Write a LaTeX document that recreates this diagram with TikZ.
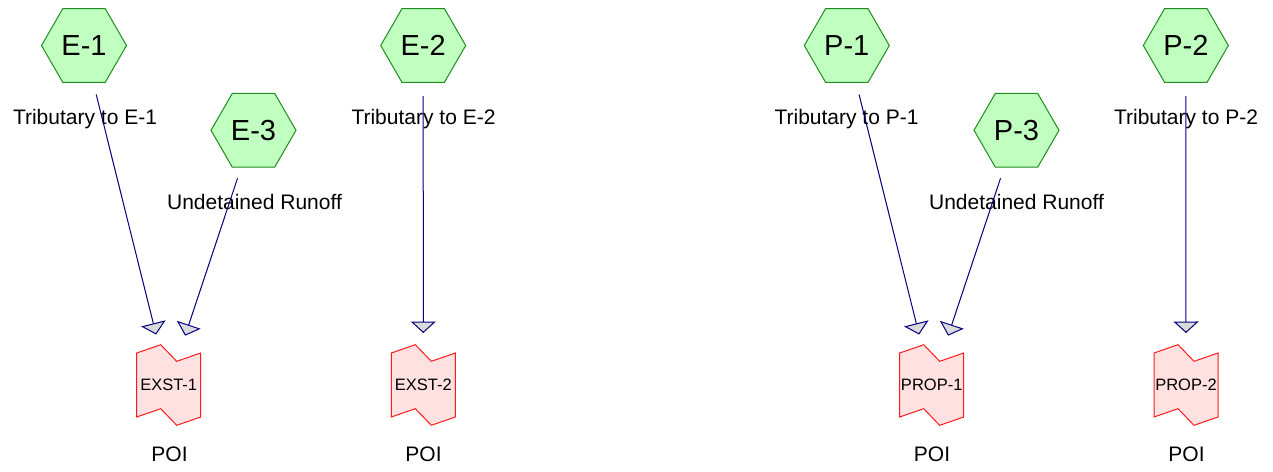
\documentclass[tikz,border=0pt]{standalone}
\usepackage{fontspec}
\setmainfont{Liberation Sans}
\usetikzlibrary{shapes.geometric,arrows.meta}
\definecolor{hexfill}{HTML}{C0FFC0}
\definecolor{hexline}{HTML}{1E8C1E}
\definecolor{boxfill}{HTML}{FFE1E1}
\definecolor{boxline}{HTML}{FF1A1A}
\definecolor{flowline}{HTML}{000080}
\definecolor{tipfill}{HTML}{DADADA}
\tikzset{
  hex/.style={regular polygon, regular polygon sides=6, minimum size=85pt, inner sep=0pt,
    fill=hexfill, draw=hexline, line width=1pt, font=\fontsize{29}{32}\selectfont},
  lbl/.style={anchor=base, inner sep=0pt, font=\fontsize{21}{24}\selectfont},
  poiframe/.style={fill=boxfill, draw=boxline, line width=1pt, line join=miter},
  boxtext/.style={inner sep=0pt, minimum width=64pt, minimum height=64pt, font=\fontsize{16.5}{19}\selectfont},
  flow/.style={draw=flowline, line width=1pt, shorten <=50.5pt, shorten >=52pt,
    -{Triangle[length=11.5pt,width=25pt,fill=tipfill]}}
}
\newcommand\poishape[2]{%
  \filldraw[poiframe, shift={(#1,#2)}] (-32,-32) -- (-8,-40.3) -- (8,-23.7) -- (32,-32)
    -- (32,32) -- (8,40.3) -- (-8,23.7) -- (-32,32) -- cycle;}
\begin{document}
\begin{tikzpicture}[x=1pt,y=-1pt]
\useasboundingbox (0,0) rectangle (1273,471);
% hexagons
\node[hex] (E1) at (84,45.5) {E-1};
\node[hex] (E2) at (423.2,45.5) {E-2};
\node[hex] (E3) at (253.5,130.3) {E-3};
\node[hex] (P1) at (846.8,45.5) {P-1};
\node[hex] (P2) at (1185.8,45.5) {P-2};
\node[hex] (P3) at (1016.5,130.3) {P-3};
% hexagon labels
\node[lbl] (lE1) at (85,124) {Tributary to E-1};
\node[lbl] (lE2) at (423.5,124) {Tributary to E-2};
\node[lbl] (lE3) at (254.5,209) {Undetained Runoff};
\node[lbl] (lP1) at (846.5,124) {Tributary to P-1};
\node[lbl] (lP2) at (1186,124) {Tributary to P-2};
\node[lbl] (lP3) at (1016.5,209) {Undetained Runoff};
% POI boxes
\poishape{168.7}{385}
\node[boxtext] (X1) at (168.7,385) {EXST-1};
\poishape{423.3}{385}
\node[boxtext] (X2) at (423.3,385) {EXST-2};
\poishape{931.7}{385}
\node[boxtext] (Q1) at (931.7,385) {PROP-1};
\poishape{1186}{385}
\node[boxtext] (Q2) at (1186,385) {PROP-2};
% POI labels
\node[lbl] (pX1) at (169.5,461.5) {POI};
\node[lbl] (pX2) at (423.5,461.5) {POI};
\node[lbl] (pQ1) at (932,461.5) {POI};
\node[lbl] (pQ2) at (1186.5,461.5) {POI};
% connectors
\draw[flow] (E1.center) -- (X1.center);
\draw[flow] (E3.center) -- (X1.center);
\draw[flow] (E2.center) -- (X2.center);
\draw[flow] (P1.center) -- (Q1.center);
\draw[flow] (P3.center) -- (Q1.center);
\draw[flow] (P2.center) -- (Q2.center);
\end{tikzpicture}
\end{document}
